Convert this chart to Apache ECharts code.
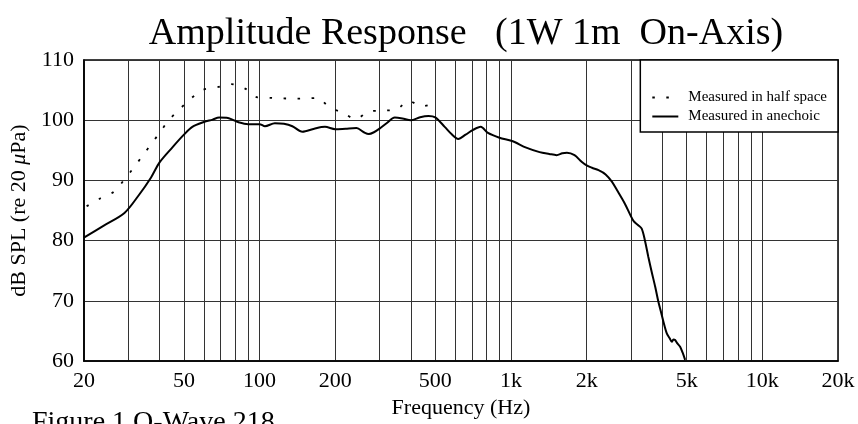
<!DOCTYPE html>
<html>
<head>
<meta charset="utf-8">
<script src="https://cdn.jsdelivr.net/npm/echarts@6/dist/echarts.min.js"></script>
<style>html,body{margin:0;padding:0;background:#fff}#c{width:858px;height:424px}</style>
</head>
<body>
<div id="c"></div>
<script>
// Measured in anechoic (solid)
const anechoicFreq = [20, 24, 29, 33, 37, 40, 45, 50, 54, 60, 65, 69, 74, 78, 82, 90, 100, 105, 115, 125, 135, 148, 165, 182, 200, 220, 243, 260, 272, 285, 300, 320, 345, 370, 400, 435, 470, 500, 545, 580, 617, 660, 707, 758, 810, 900, 1010, 1150, 1300, 1420, 1520, 1600, 1670, 1790, 1910, 2000, 2100, 2230, 2380, 2520, 2640, 2842, 3069, 3200, 3312, 3413, 3520, 3630, 3750, 3861, 3950, 4044, 4168, 4280, 4364, 4430, 4498, 4600, 4709, 4820, 4930];
const anechoicDb = [80.5, 82.5, 84.6, 87.5, 90.5, 93.0, 95.5, 97.6, 98.9, 99.7, 100.1, 100.45, 100.4, 100.1, 99.7, 99.35, 99.35, 99.0, 99.5, 99.4, 99.0, 98.1, 98.6, 98.9, 98.5, 98.6, 98.7, 98.0, 97.7, 98.0, 98.6, 99.5, 100.45, 100.3, 100.0, 100.5, 100.7, 100.46, 98.9, 97.7, 96.9, 97.6, 98.4, 98.9, 97.9, 97.1, 96.55, 95.45, 94.7, 94.4, 94.2, 94.5, 94.6, 94.2, 93.1, 92.5, 92.1, 91.7, 91.0, 89.8, 88.4, 86.1, 83.3, 82.6, 82.0, 80.0, 77.3, 74.8, 72.3, 69.8, 68.2, 66.5, 64.6, 63.8, 63.2, 63.6, 63.5, 62.9, 62.4, 61.4, 60.2];
// Measured in half space (dotted)
const halfFreq = [20.5, 23.2, 26.3, 28.8, 31.4, 34.1, 37, 40, 43.5, 48, 53, 59, 68, 77, 88, 98, 113, 130, 148, 170, 189, 215, 241, 272, 308, 351, 392, 443, 497];
const halfDb = [85.7, 87.0, 88.1, 90.0, 92.0, 94.0, 96.0, 97.9, 100.0, 101.8, 103.5, 105.0, 105.5, 106.0, 105.2, 103.8, 103.7, 103.6, 103.6, 103.7, 102.2, 101.2, 100.2, 101.45, 101.6, 101.8, 103.2, 102.3, 102.8];
// axis ticks
const xLabelValues = [20, 50, 100, 200, 500, 1000, 2000, 5000, 10000, 20000];
const xGridValues = [20, 30, 40, 50, 60, 70, 80, 90, 100, 200, 300, 400, 500, 600, 700, 800, 900, 1000, 2000, 3000, 4000, 5000, 6000, 7000, 8000, 9000, 10000, 20000];
const seriesNames = ['Measured in half space', 'Measured in anechoic'];

const FONT = '"Liberation Serif", "Times New Roman", serif';
const zip = (a, b) => a.map((v, i) => [v, b[i]]);

const chart = echarts.init(document.getElementById('c'), null, {renderer: 'canvas'});
chart.setOption({
  animation: false,
  backgroundColor: '#fff',
  title: {
    text: 'Amplitude Response   (1W 1m  On-Axis)',
    left: 461, top: 10, textAlign: 'center',
    textStyle: {fontFamily: FONT, fontSize: 38, fontWeight: 'normal', color: '#000'}
  },
  graphic: [{
    type: 'text', left: 32, top: 409,
    style: {text: 'Figure 1 Q-Wave 218', font: '28px ' + FONT, fill: '#000'}
  }],
  legend: {
    orient: 'vertical', right: 20, top: 60,
    data: seriesNames,
    backgroundColor: '#fff', borderColor: '#000', borderWidth: 1.5,
    padding: [30, 11, 8, 11],
    itemWidth: 26, itemHeight: 14, itemGap: 4,
    itemStyle: {opacity: 0, color: 'rgba(0,0,0,0)', borderWidth: 0},
    textStyle: {fontFamily: FONT, fontSize: 15, color: '#000', padding: [0, 0, 0, 5]}
  },
  grid: {left: 83, right: 20, top: 60, bottom: 61, show: true, borderColor: '#000', borderWidth: 1.5},
  xAxis: {
    type: 'log', logBase: 10, min: 20, max: 20000,
    name: 'Frequency (Hz)', nameLocation: 'middle', nameGap: 30,
    nameTextStyle: {fontFamily: FONT, fontSize: 22, color: '#000'},
    axisLine: {show: true, lineStyle: {color: '#000', width: 1.5}},
    axisTick: {show: false, customValues: xGridValues},
    axisLabel: {customValues: xLabelValues, fontFamily: FONT, fontSize: 22, color: '#000', margin: 9,
      formatter: v => v >= 1000 ? (v / 1000) + 'k' : String(v)},
    splitLine: {show: true, lineStyle: {color: '#333', width: 1}}
  },
  yAxis: {
    type: 'value', min: 60, max: 110, interval: 10,
    name: '{a|dB SPL (re 20 }{b|μ}{a|Pa)}', nameLocation: 'middle', nameGap: 47, nameRotate: 90,
    nameTextStyle: {rich: {a: {fontFamily: FONT, fontSize: 22, color: '#000'}, b: {fontFamily: FONT, fontSize: 22, fontStyle: 'italic', color: '#000'}}},
    axisLine: {show: true, lineStyle: {color: '#000', width: 1.5}},
    axisTick: {show: false},
    axisLabel: {fontFamily: FONT, fontSize: 22, color: '#000', margin: 10},
    splitLine: {show: true, lineStyle: {color: '#333', width: 1}}
  },
  series: [
    {name: seriesNames[0], type: 'line', data: zip(halfFreq, halfDb), showSymbol: false, symbol: 'none', smooth: 0.3,
      lineStyle: {color: '#000', width: 1.8, type: [2.5, 11.5]}, itemStyle: {color: '#000'}},
    {name: seriesNames[1], type: 'line', data: zip(anechoicFreq, anechoicDb), showSymbol: false, symbol: 'none', smooth: 0.3,
      lineStyle: {color: '#000', width: 2}, itemStyle: {color: '#000'}}
  ]
});
</script>
</body>
</html>
